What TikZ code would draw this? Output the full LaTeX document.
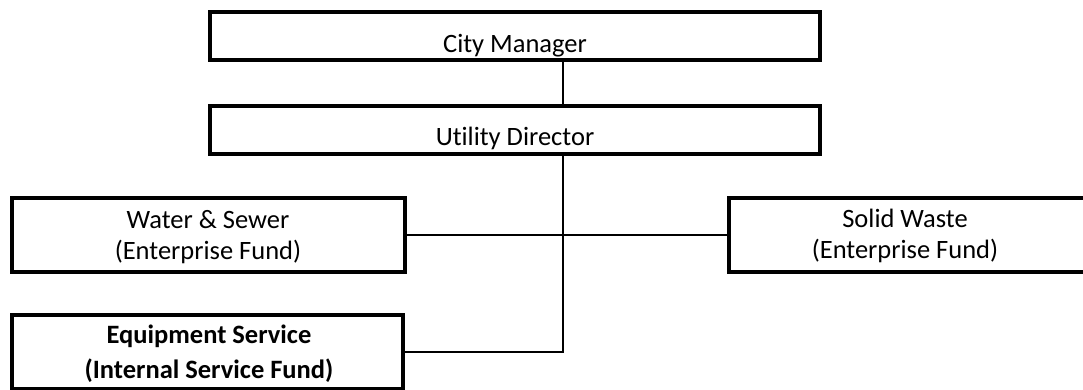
\documentclass[tikz,border=0pt]{standalone}
\usepackage{fontspec}
\setmainfont{Carlito}[Ligatures=NoCommon]
\begin{document}
\begin{tikzpicture}[x=1pt,y=-1pt,
  box/.style={draw=black, line width=4pt, inner sep=0pt, fill=white},
  conn/.style={draw=black, line width=1.5pt},
  txt/.style={anchor=base, inner sep=0pt, font=\fontsize{26.5}{32}\selectfont},
  btxt/.style={txt, font=\fontsize{26.5}{32}\selectfont\bfseries}]
\useasboundingbox (0,0) rectangle (1083,390);
\fill[white] (0,0) rectangle (1083,390);
\coordinate (v) at (563,0);
% boxes
\node[box, minimum width=610pt, minimum height=48pt] (city) at (515,36) {};
\node[box, minimum width=610pt, minimum height=48pt] (util) at (515,130) {};
\node[box, minimum width=393pt, minimum height=74pt] (ws) at (208.5,235) {};
\node[box, minimum width=356pt, minimum height=74pt] (sw) at (907,235) {};
\node[box, minimum width=391pt, minimum height=74pt] (eq) at (207.5,352) {};
% connectors
\draw[conn] (city.south -| v) -- (util.north -| v);
\draw[conn] (ws.east) -- (sw.west);
\draw[conn] (util.south -| v) -- (v |- eq.east) -- (eq.east);
% texts
\node[txt] (tcity) at (515,53) {City Manager};
\node[txt] (tutil) at (515,146) {Utility Director};
\node[txt] (tws1) at (208,228) {Water \& Sewer};
\node[txt] (tws2) at (208,259) {(Enterprise Fund)};
\node[txt] (tsw1) at (905,227) {Solid Waste};
\node[txt] (tsw2) at (905,258) {(Enterprise Fund)};
\node[btxt] (teq1) at (209,343) {Equipment Service};
\node[btxt] (teq2) at (209,378) {(Internal Service Fund)};
\end{tikzpicture}
\end{document}
